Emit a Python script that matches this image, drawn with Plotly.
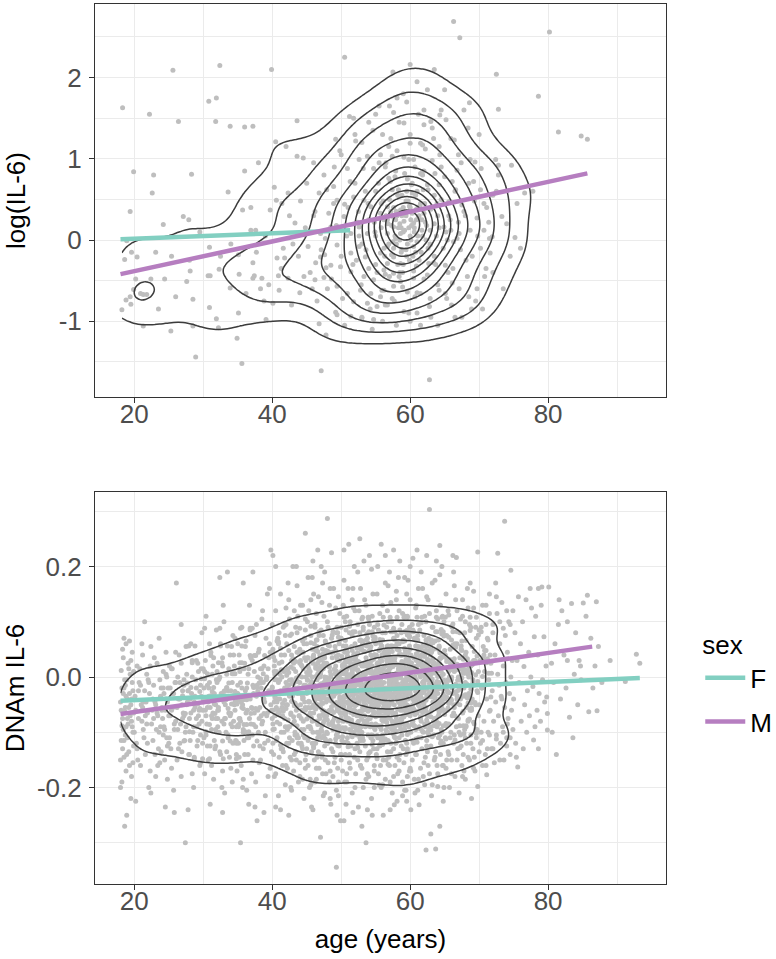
import numpy as np
import plotly.graph_objects as go

# ---------------- data ----------------
# top panel: (age, log(IL-6))
top_pts_young = [(18.3,1.63),(25.6,2.09),(32.4,2.15),(39.9,2.10),(22.2,1.55),(26.4,1.46),(30.8,1.71),(31.9,1.75),(31.8,1.46),(33.9,1.40),(36.0,1.39),(37.2,1.40),(43.6,1.47),(40.5,1.21),(43.6,1.03),(44.5,1.01),(19.9,0.84),(22.8,0.80),(28.3,0.81),(22.6,0.58),(19.4,0.35),(24.2,0.19),(27.1,0.29),(27.9,0.25),(33.6,0.59),(36.0,0.85),(35.7,0.37),(36.9,0.40),(36.9,0.12),(37.6,0.12),(40.3,0.65),(41.4,0.45),(42.3,0.58),(39.7,0.37),(40.6,0.49),(43.3,0.21),(44.1,0.48),(18.9,-0.01),(18.6,-0.24),(19.6,-0.15),(20.4,-0.21),(23.1,-0.15),(25.4,-0.20),(28.0,-0.25),(30.9,-0.09),(32.5,-0.20),(35.1,-0.18),(37.2,-0.28),(37.7,-0.15),(40.7,-0.22),(41.6,-0.10),(41.8,-0.22),(41.3,-0.35),(43.8,-0.20),(20.2,-0.48),(22.4,-0.48),(24.4,-0.48),(28.1,-0.38),(27.6,-0.51),(30.7,-0.44),(31.0,-0.44),(32.3,-0.36),(33.9,-0.59),(35.2,-0.42),(36.2,-0.66),(37.2,-0.47),(37.4,-0.44),(38.3,-0.60),(38.5,-0.47),(39.5,-0.55),(40.9,-0.44),(42.3,-0.47),(44.6,-0.45),(19.4,-0.70),(18.8,-0.74),(19.5,-0.79),(19.9,-0.61),(20.9,-0.66),(21.3,-0.67),(21.8,-0.67),(18.2,-0.86),(21.3,-1.06),(25.3,-1.12),(28.5,-1.06),(28.5,-0.73),(30.9,-0.83),(31.9,-0.97),(32.2,-1.08),(35.1,-0.90),(34.9,-1.21),(39.1,-0.98),(40.1,-0.78),(28.9,-1.44),(35.6,-1.52),(38.0,0.95),(42.5,0.30),(44.0,-0.65),(42.8,-0.80),(34.0,-0.05),(26.0,-0.70),(23.5,-0.85),(29.5,0.10),(39.0,0.05),(43.0,-0.05),(45.0,0.70),(44.8,0.15),(41.0,-0.62),(38.8,-0.75),(42.0,1.15)]
top_pts_mid = [(50.5,2.25),(51.2,1.52),(51.8,1.50),(49.2,1.24),(46.8,0.58),(48.9,0.45),(50.5,0.44),(45.2,-0.08),(46.3,-0.28),(47.8,-0.34),(47.6,-0.18),(46.2,-0.49),(47.5,-0.46),(46.8,-1.03),(47.8,-1.17),(47.1,-1.61),(49.2,-0.89),(57.5,2.07),(48.9,0.66),(50.9,0.88),(52.6,0.99),(53.8,1.03),(54.7,0.88),(57.1,0.72),(49.4,0.49),(51.8,0.53),(53.3,0.49),(54.3,0.41),(55.7,0.33),(48.2,0.33),(48.5,0.16),(50.4,0.29),(51.4,0.08),(52.6,0.16),(53.8,0.08),(56.2,0.25),(57.6,0.16),(47.0,0.08),(47.7,0.02),(49.4,-0.06),(51.4,-0.16),(52.6,-0.08),(53.5,-0.21),(55.7,-0.16),(56.7,-0.08),(57.6,-0.21),(47.0,-0.21),(48.5,-0.31),(49.9,-0.33),(51.4,-0.39),(53.3,-0.45),(54.7,-0.49),(56.2,-0.37),(49.4,-0.57),(50.9,-0.66),(52.8,-0.62),(54.3,-0.66),(55.7,-0.70),(57.4,-0.72),(51.8,-0.76),(53.8,-0.78),(55.2,-0.82),(56.7,-0.80),(49.4,-0.92),(51.4,-0.94),(53.0,-0.96),(54.7,-0.98),(58.1,1.75),(57.6,1.57),(57.4,1.03),(56.9,1.15),(56.4,0.90),(56.9,0.76),(56.7,0.41),(57.9,0.25),(56.7,0.08),(57.9,0.02),(56.2,-0.10),(57.6,-0.10),(56.7,-0.29),(57.6,-0.41),(56.2,-0.62),(57.6,-0.57),(56.4,-0.80),(52.0,1.30),(54.0,1.45),(55.5,1.65),(53.0,1.20),(50.0,1.05),(46.0,0.95),(47.5,0.80),(52.0,0.70),(55.0,0.60),(54.0,0.25),(55.0,0.05),(50.0,-0.20),(48.0,-0.60),(46.5,-0.75),(45.5,-0.40),(55.0,-0.30),(53.0,-0.05),(51.0,0.40),(56.0,1.30),(54.5,-1.10),(50.5,-1.05),(58.0,-1.05),(55.5,0.95),(57.0,0.50),(52.5,0.35),(49.0,0.90),(46.0,0.30),(45.8,-0.60),(54.0,-0.35),(55.8,0.15),(53.5,0.60),(52.2,-0.25),(57.2,0.35)]
top_pts_old = [(66.3,2.69),(67.2,2.49),(80.2,2.56),(60.0,2.16),(63.5,2.10),(72.5,2.04),(78.6,1.77),(68.6,1.69),(72.8,1.61),(81.5,1.33),(84.8,1.28),(85.7,1.24),(68.4,1.38),(66.4,1.23),(72.4,0.99),(72.8,0.92),(74.7,0.92),(69.4,0.96),(76.6,0.58),(77.8,0.60),(73.3,0.29),(71.1,0.40),(75.2,0.03),(71.5,0.02),(62.8,-1.72),(62.0,1.42),(63.0,1.46),(64.3,1.54),(65.2,1.48),(59.1,1.44),(60.0,1.19),(61.5,1.19),(61.8,1.17),(63.4,1.25),(64.2,1.15),(59.8,0.99),(60.5,0.99),(61.5,0.82),(63.2,0.98),(62.5,0.68),(64.2,0.68),(66.1,0.72),(66.6,0.62),(69.2,0.72),(70.2,0.62),(67.5,0.43),(65.6,0.47),(63.9,0.45),(62.0,0.33),(60.3,0.33),(58.6,0.37),(59.1,0.23),(60.5,0.21),(61.7,0.12),(62.9,0.12),(64.9,0.16),(65.9,0.12),(67.1,0.08),(68.7,0.12),(69.7,0.27),(70.7,0.12),(58.8,-0.12),(60.5,-0.08),(62.9,-0.06),(65.4,0.00),(66.3,-0.02),(67.3,-0.12),(70.2,-0.10),(58.6,-0.29),(61.3,-0.25),(62.7,-0.29),(65.1,-0.31),(58.6,-0.51),(60.5,-0.47),(62.5,-0.43),(64.2,-0.62),(66.1,-0.53),(68.3,-0.45),(59.6,-0.64),(61.5,-0.66),(62.9,-0.72),(65.1,-0.66),(59.1,-0.88),(61.0,-0.90),(69.7,-0.60),(71.6,-0.16),(71.9,0.04),(70.7,0.45),(72.8,0.80),(68.7,0.99),(66.8,0.86),(58.1,1.10),(59.5,0.60),(60.8,0.55),(59.0,0.10),(60.0,0.05),(58.5,0.00),(61.0,-0.02),(59.5,-0.20),(60.0,0.40),(61.2,0.28),(58.3,0.15),(59.8,0.15),(60.2,0.18),(58.8,0.30),(61.5,0.45),(62.3,0.00),(63.5,-0.20),(64.0,0.30),(64.5,0.90),(67.0,1.05),(68.0,0.30),(69.0,-0.20),(66.0,-0.80),(63.0,-0.95),(60.0,-1.00),(64.0,-1.05),(67.5,-0.95),(70.5,-0.85),(72.0,-0.40),(73.5,-0.60),(74.5,-0.20),(72.5,0.60),(70.0,1.30),(65.0,1.85),(62.0,1.60),(61.0,1.95),(59.0,1.80),(67.8,1.60),(75.5,0.45),(76.0,-0.10),(74.0,0.20),(71.0,-0.35),(68.5,-0.70),(65.5,-0.40),(63.5,0.55),(62.0,0.85),(65.8,0.25),(58.9,-0.40),(60.7,-0.70),(59.4,0.48),(60.9,-0.32)]
top_pts_core = [(58.5,0.20),(59.2,0.12),(60.1,0.25),(57.8,0.05),(59.6,-0.05),(58.0,0.35),(60.6,0.10),(61.3,0.30),(57.3,0.18),(59.9,0.42),(58.7,-0.15),(60.4,-0.20),(61.8,0.05),(56.9,-0.05),(58.2,0.55),(59.4,0.30),(60.9,0.38),(57.6,0.28),(62.2,0.22),(56.5,0.30),(59.0,-0.30),(61.0,0.60),(58.4,-0.45),(60.3,0.70),(62.6,-0.10),
(46.2,0.35),(47.1,-0.12),(47.9,0.62),(48.6,-0.48),(49.3,0.18),(49.8,1.10),(50.2,-0.72),(50.8,0.05),(51.3,0.72),(51.7,-0.30),(52.1,1.22),(52.4,0.22),(52.9,-0.55),(53.2,0.88),(53.6,-0.12),(53.9,0.45),(54.2,-0.85),(54.6,1.35),(54.9,0.10),(55.2,-0.40),(55.4,0.70),(55.7,1.05),(55.9,-0.62),(56.1,0.48),(56.3,-0.20),(56.5,0.95),(56.8,0.20),(57.0,-0.45),(57.2,1.25),(57.4,0.62),(57.5,-0.02),(57.7,-0.75),(57.9,0.85),(58.1,0.30),(58.2,-0.30),(58.4,1.45),(58.6,0.08),(58.8,0.55),(58.9,-0.58),(59.1,1.02),(59.3,0.32),(59.4,-0.12),(59.6,0.75),(59.8,-0.90),(60.0,1.30),(60.1,0.00),(60.3,0.58),(60.5,-0.38),(60.7,0.90),(60.9,0.25),(61.0,-0.65),(61.2,1.55),(61.4,0.42),(61.6,-0.15),(61.8,0.80),(62.0,-0.48),(62.2,1.12),(62.4,0.18),(62.6,0.62),(62.8,-0.82),(63.0,0.38),(63.2,1.38),(63.4,-0.28),(63.6,0.82),(63.8,0.05),(64.0,-0.55),(64.3,1.05),(64.5,0.50),(64.8,-0.10),(65.0,0.78),(65.3,-0.72),(65.6,0.30),(65.9,1.25),(66.2,-0.35),(66.5,0.60),(66.8,0.02),(67.1,-0.60),(67.4,0.95),(67.8,0.35),(68.1,-0.25),(68.5,0.70),(68.9,-0.85),(69.3,0.48),(69.8,0.05),(70.3,0.88),(70.8,-0.45),(71.4,0.22),(72.0,0.55),(55.0,1.55),(57.0,1.65),(59.5,1.70),(62.5,1.85),(64.5,1.60),(53.0,-0.95),(56.0,-1.00),(61.5,-1.05),(66.5,-0.95),(69.5,-0.75),(58.3,0.62),(59.7,0.48),(60.6,0.15),(58.0,-0.05),(61.1,0.05),(59.0,0.40),(60.4,0.35),(57.6,0.40),(62.1,0.45),(58.7,0.15),(59.9,-0.25),(61.7,0.25),(57.3,-0.18),(60.8,-0.15),(59.2,0.82),(56.7,0.25),(63.5,0.20),(55.8,0.45),(64.2,0.15),(62.9,-0.05),(58.5,-0.40),(60.2,0.68),(57.8,0.78),(61.9,0.62),(56.4,-0.42),(63.7,-0.30),(54.8,0.22),(65.2,0.10),(52.6,0.05),(67.0,0.22)]

# bottom panel: (age in tenths of a year, DNAm IL-6 in thousandths)
bot_pts_18_30 = [(180,-45),(181,12),(182,-88),(183,-130),(184,35),(185,-20),(186,-62),(187,-105),(188,60),(189,-5),(180,-150),(182,-190),(183,-75),(185,70),(186,-270),(188,-35),(190,-110),(191,25),(192,-55),(193,-160),(194,5),(195,-220),(196,-80),(197,45),(198,-25),(199,-125),(181,-60),(184,-95),(187,-15),(189,-140),(190,-40),(192,15),(194,-70),(196,-180),(198,-100),(183,50),(185,-115),(188,-170),(191,-85),(193,-30),(195,-50),(197,-10),(199,-65),(180,-200),(186,-5),(189,-250),(192,-135),(195,30),(197,-90),(199,10),(181,-115),(184,-30),(187,-55),(190,-75),(193,65),(196,-40),(198,-155),(182,-20),(185,-145),(188,-90),
(201,-35),(203,-120),(204,20),(206,-75),(207,-10),(209,-160),(210,-50),(212,40),(213,-95),(215,-25),(216,-140),(218,5),(219,-65),(221,-200),(222,-30),(224,55),(225,-85),(227,-115),(228,-15),(230,-45),(231,-180),(233,25),(234,-70),(236,-100),(237,-5),(239,-135),(240,-55),(242,10),(243,-90),(245,-235),(246,-40),(248,-125),(249,-20),(202,-60),(205,-150),(208,15),(211,-80),(214,-110),(217,-45),(220,-5),(223,-170),(226,-60),(229,35),(232,-95),(235,-130),(238,-35),(241,-75),(244,-150),(247,0),(200,-100),(206,-25),(212,-55),(215,100),(218,-85),(224,-210),(227,-40),(230,-140),(233,-65),(236,70),(239,-20),(242,-105),(245,-60),(248,-185),(204,-130),(209,-15),(213,-45),(219,-120),(223,20),(228,-75),(234,-160),(238,-90),(243,-30),(247,-110),(202,-225),(211,60),(216,-70),(221,-10),(231,-50),(237,-155),(246,45),
(250,-70),(252,-20),(253,-130),(255,15),(256,-55),(258,-95),(259,-10),(261,170),(262,-150),(264,-40),(265,40),(267,-85),(268,-180),(270,-25),(271,-65),(273,-115),(274,-300),(276,5),(277,-45),(279,-140),(280,-75),(282,60),(283,-30),(285,-100),(286,-200),(288,-55),(289,-5),(291,-125),(292,25),(294,-85),(295,-160),(297,-35),(298,80),(299,-60),(251,-110),(254,-165),(257,-30),(260,-80),(263,0),(266,-120),(269,-50),(272,-15),(275,-90),(278,-240),(281,-40),(284,30),(287,-145),(290,-20),(293,-70),(296,-105),(251,20),(254,-60),(257,-205),(260,45),(263,-95),(266,-10),(269,-135),(272,-70),(275,55),(278,-25),(281,-115),(284,-175),(287,-45),(290,-90),(293,10),(296,-155),(299,-120),(258,-245),(268,95),(286,-60)]
bot_pts_30_45 = [(300,-40),(301,-110),(303,30),(304,-70),(306,-15),(307,-150),(309,60),(310,-55),(312,-95),(313,5),(315,-185),(316,-30),(318,-125),(319,85),(321,-60),(322,-5),(324,180),(325,-140),(327,-80),(328,20),(330,-45),(331,-210),(333,-100),(335,190),(336,-25),(337,-65),(339,40),(340,-165),(342,-10),(343,-120),(345,-50),(346,70),(348,-90),(349,-30),(302,-175),(305,-85),(308,-35),(311,45),(314,-65),(317,-130),(320,10),(323,-100),(326,-40),(328,-245),(329,130),(332,-75),(334,-20),(338,-145),(341,55),(344,-80),(347,-115),(300,15),(303,-60),(306,-125),(309,-10),(312,-160),(315,35),(318,-50),(321,-90),(324,0),(327,-200),(330,100),(333,-35),(336,-105),(339,-70),(342,-190),(345,20),(348,-140),(301,-20),(304,110),(307,-45),(310,-230),(313,-75),(316,-115),(319,-5),(322,-55),(325,60),(328,-170),(331,-25),(334,-135),(337,15),(340,-85),(343,75),(346,-60),(349,-170),
(350,-30),(351,-120),(352,40),(353,-75),(354,-10),(355,-160),(356,90),(357,-50),(358,-95),(359,15),(360,-140),(361,-25),(362,65),(363,-205),(364,-60),(365,5),(366,-110),(367,130),(368,-40),(369,-85),(370,-175),(371,30),(372,-15),(373,-125),(374,-65),(375,75),(376,-190),(377,-35),(378,-260),(379,0),(380,-100),(381,50),(382,-55),(383,-150),(384,-20),(385,105),(386,-80),(387,-130),(388,20),(389,-45),(390,-215),(391,-5),(392,-70),(393,150),(394,-115),(395,35),(396,-30),(397,-165),(398,230),(399,-60),(350,60),(352,-145),(354,-80),(356,-20),(358,-185),(360,25),(362,-65),(364,-110),(366,-35),(368,85),(370,-55),(372,-150),(374,10),(376,-90),(378,-15),(380,45),(382,-125),(384,-70),(386,120),(388,-40),(390,-100),(392,0),(394,-180),(396,60),(398,-50),(351,-90),(353,10),(355,-45),(357,-200),(359,-115),(361,55),(363,-20),(365,-140),(367,-75),(369,35),(371,-105),(373,-30),(375,-235),(377,95),(379,-60),(381,-155),(383,15),(385,-85),(387,-10),(389,-120),(391,70),(393,-65),(395,-25),(397,45),(399,-135),(354,-300),(358,170),(372,190),(388,-245),(396,160),(366,-230),
(400,-20),(401,-95),(401,50),(402,-140),(403,-45),(403,10),(404,-70),(405,120),(405,-175),(406,-30),(407,-5),(407,-110),(408,70),(409,-60),(409,-215),(410,25),(411,-85),(411,-40),(412,150),(413,-130),(414,0),(414,-55),(415,-160),(416,90),(416,-25),(417,-100),(418,40),(418,-75),(419,-195),(420,-10),(421,60),(421,-120),(422,-50),(423,15),(423,-90),(424,-250),(425,-35),(425,105),(426,-145),(427,-65),(428,30),(428,-5),(429,-115),(430,200),(430,-45),(431,-170),(432,55),(432,-80),(433,-20),(434,-135),(434,10),(435,-60),(436,80),(436,-105),(437,-30),(438,-190),(438,45),(439,-70),(440,-10),(440,-155),(441,130),(441,-50),(442,-95),(443,20),(443,-125),(444,-40),(444,65),(445,-80),(446,-15),(446,-220),(447,35),(447,-110),(448,-55),(449,0),(449,-140),(400,95),(402,-60),(403,-180),(404,30),(406,-115),(408,-40),(409,60),(410,-145),(412,-25),(413,40),(415,-70),(417,10),(419,-90),(420,125),(422,-165),(424,-15),(426,75),(427,-200),(429,-35),(431,25),(433,-105),(435,-150),(437,110),(439,-20),(440,50),(442,-75),(444,-185),(445,15),(447,-45),(448,85),(401,-120),(404,-5),(405,-235),(407,65),(410,-65),(411,5),(413,-100),(416,-135),(418,-20),(420,-50),(423,170),(425,-110),(428,-150),(430,-85),(432,-10),(434,90),(436,-55),(438,-120),(441,-30),(443,-60),(445,45),(446,-95),(448,-165),(449,30),(401,220),(405,200),(435,200),(412,-240),(448,260)]
bot_pts_45_55 = [(450,-30),(450,60),(451,-110),(451,-5),(452,-160),(452,35),(453,-70),(453,120),(454,-45),(454,-200),(455,10),(455,-90),(456,-20),(456,75),(457,-135),(457,-55),(458,180),(458,0),(459,-100),(459,-240),(460,40),(460,-65),(461,-15),(461,-150),(462,95),(462,-35),(463,-120),(463,20),(464,-80),(464,-185),(465,55),(465,-5),(466,-50),(466,-110),(467,145),(467,-25),(468,-165),(468,30),(469,-75),(469,-40),(470,-290),(470,5),(471,85),(471,-95),(472,-140),(472,-20),(473,50),(473,-60),(474,-215),(474,15),(475,-35),(475,110),(476,-125),(476,-70),(477,-10),(477,65),(478,-175),(478,-45),(479,25),(479,-100),(480,287),(480,-30),(481,-155),(481,45),(482,-85),(482,-5),(483,130),(483,-60),(484,-115),(484,10),(485,-230),(485,-40),(486,70),(486,-130),(487,-20),(487,35),(488,-95),(488,-180),(489,160),(489,-50),(490,-10),(490,-75),(491,55),(491,-145),(492,-30),(492,20),(493,-205),(493,-105),(494,90),(494,-55),(495,-15),(495,-165),(496,40),(496,-80),(497,-125),(497,0),(498,115),(498,-45),(499,-260),(499,-65),(450,-130),(452,-55),(453,15),(455,-185),(456,140),(458,-80),(460,-120),(461,60),(463,-40),(465,-145),(466,25),(468,-100),(470,-55),(471,200),(473,-175),(475,-80),(476,35),(478,-15),(480,-120),(481,90),(483,-190),(485,0),(486,-60),(488,45),(490,-155),(491,-25),(493,80),(495,-100),(496,-215),(498,5),(451,100),(454,-90),(457,-235),(459,-20),(462,-190),(464,-50),(467,-135),(469,10),(472,-110),(474,75),(477,-150),(479,-70),(482,20),(484,-220),(487,-85),(489,-35),(492,-120),(494,-250),(497,60),(499,-140),(493,-344),(459,210),(466,230),(486,225),(473,170),
(500,-25),(500,70),(501,-115),(501,-50),(502,20),(502,-170),(503,-80),(503,130),(504,-260),(504,-10),(505,-95),(505,45),(506,-140),(506,-35),(507,85),(507,-65),(508,-190),(508,5),(509,-45),(509,-110),(510,160),(510,-20),(511,-75),(511,30),(512,-155),(512,-55),(513,100),(513,-5),(514,-125),(514,-85),(515,55),(515,-30),(516,-210),(516,15),(517,-60),(517,-100),(518,125),(518,-40),(519,-145),(519,0),(520,60),(520,-90),(521,-15),(521,-175),(522,40),(522,-50),(523,-120),(523,-70),(524,190),(524,-25),(525,-235),(525,10),(526,-95),(526,-45),(527,80),(527,-135),(528,-10),(528,-160),(529,50),(529,-65),(530,-30),(530,105),(531,-110),(531,-55),(532,25),(532,-200),(533,-80),(533,0),(534,140),(534,-40),(535,-125),(535,-90),(536,-300),(536,35),(537,-20),(537,-150),(538,70),(538,-60),(539,-105),(539,-5),(540,15),(540,-180),(541,-45),(541,95),(542,-75),(542,-135),(543,-25),(543,55),(544,-220),(544,-85),(545,20),(545,-50),(546,150),(546,-115),(547,-10),(547,-65),(548,-160),(548,40),(549,-95),(549,-30),(500,-140),(502,-65),(503,-20),(505,-190),(506,100),(508,-75),(510,-120),(511,0),(513,-165),(515,-105),(516,75),(518,-20),(520,-130),(521,30),(523,-45),(525,-80),(526,120),(528,-115),(530,-165),(531,65),(533,-35),(535,5),(536,-85),(538,-175),(540,-60),(541,-10),(543,-110),(545,110),(546,-40),(548,-200),(501,10),(504,-35),(507,-230),(509,45),(512,-95),(514,-15),(517,160),(519,-60),(522,-105),(524,-150),(527,-25),(529,-90),(532,90),(534,-70),(537,-40),(539,-145),(542,10),(544,-15),(547,-130),(549,65),(504,230),(511,240),(519,200),(527,250),(533,210),(541,220),(545,-250),(517,-245),(530,-270),(538,-240)]
bot_pts_55_65 = [(550,-20),(550,-85),(551,40),(551,-140),(552,-50),(552,10),(553,-110),(553,95),(554,-30),(554,-175),(555,-70),(555,25),(556,-5),(556,-125),(557,60),(557,-45),(558,-95),(558,-200),(559,15),(559,-60),(560,130),(560,-25),(561,-150),(561,-80),(562,45),(562,-10),(563,-115),(563,-40),(564,80),(564,-185),(565,0),(565,-65),(566,-100),(566,30),(567,-20),(567,-135),(568,165),(568,-55),(569,-90),(569,10),(570,-160),(570,-35),(571,55),(571,-75),(572,-5),(572,-120),(573,100),(573,-45),(574,-210),(574,20),(575,-85),(575,-15),(576,70),(576,-130),(577,-50),(577,-231),(578,35),(578,-100),(579,-25),(579,-65),(580,140),(580,-5),(581,-225),(581,-145),(582,50),(582,-35),(583,-80),(583,15),(584,-110),(584,-170),(585,85),(585,-20),(586,-60),(586,0),(587,-125),(587,40),(588,-40),(588,-95),(589,115),(589,-190),(590,-10),(590,-70),(591,25),(591,-155),(592,-50),(592,65),(593,-115),(593,-30),(594,-205),(594,5),(595,-85),(595,150),(596,-20),(596,-135),(597,45),(597,-60),(598,-100),(598,-5),(599,-170),(599,90),(550,60),(552,-130),(553,-40),(555,-195),(556,50),(558,-20),(560,-105),(561,15),(563,-75),(565,-150),(566,90),(568,-115),(570,-5),(571,-190),(573,-60),(575,35),(576,-30),(578,-160),(580,-80),(581,75),(583,-45),(585,-140),(586,-95),(588,20),(590,-130),(591,-40),(593,110),(595,-50),(596,-180),(598,30),(551,-15),(554,85),(557,-160),(559,-110),(562,-70),(564,-30),(567,120),(569,-145),(572,30),(574,-95),(577,-10),(579,-120),(582,-175),(584,60),(587,-75),(589,-45),(592,-95),(594,-140),(597,-35),(599,10),(553,200),(558,240),(564,220),(570,190),(576,230),(583,180),(589,-215),(595,-225),(561,-250),(571,-240),(585,210),(597,175),
(600,-30),(600,50),(601,-100),(601,-240),(602,-55),(602,15),(603,-150),(603,95),(604,-15),(604,-80),(605,35),(605,-120),(606,-45),(606,-185),(607,70),(607,-5),(608,-95),(608,-35),(609,130),(609,-140),(610,-65),(610,20),(611,-20),(611,-205),(612,55),(612,-110),(613,-50),(613,-231),(614,5),(614,85),(615,-165),(615,-75),(616,-25),(616,40),(617,-130),(617,-60),(618,160),(618,-10),(619,-100),(619,-180),(620,25),(620,-40),(621,-85),(621,110),(622,-145),(622,0),(623,-313),(623,-55),(624,60),(624,-115),(625,-20),(625,-70),(626,140),(626,-160),(627,-35),(627,30),(628,303),(629,-90),(629,-5),(630,-284),(630,-125),(631,45),(631,-60),(632,-15),(632,-195),(633,90),(633,-45),(634,-105),(634,10),(635,-150),(635,-75),(636,65),(636,-25),(637,-311),(637,-135),(638,-50),(638,120),(639,-90),(639,15),(640,-175),(640,-30),(641,50),(641,-110),(642,-10),(642,-65),(643,-270),(643,185),(644,-140),(644,35),(645,-45),(645,-95),(646,80),(646,-20),(647,-160),(647,-60),(648,5),(648,-120),(649,100),(649,-35),(601,-170),(603,-20),(605,-60),(607,-210),(609,-40),(611,75),(613,-90),(615,0),(617,20),(619,-55),(621,-195),(623,100),(625,-135),(627,-95),(629,55),(631,-215),(633,-25),(635,25),(637,-80),(639,-160),(641,-20),(643,-105),(645,10),(647,110),(649,-200),(600,200),(604,215),(610,230),(616,190),(624,220),(632,170),(638,210),(643,238),(646,200),(648,-225)]
bot_pts_65_94 = [(650,-40),(650,40),(651,-110),(652,-10),(652,-165),(653,75),(654,-60),(654,-25),(655,120),(655,-135),(656,-85),(656,10),(657,-200),(658,50),(658,-45),(659,-100),(660,-5),(660,-150),(661,90),(661,-70),(662,220),(662,-30),(663,-120),(664,25),(664,-55),(665,-180),(666,140),(666,-15),(667,-90),(667,216),(668,-40),(668,60),(669,-130),(670,0),(670,-75),(671,-210),(672,35),(672,-50),(673,-105),(673,105),(674,-20),(675,-160),(675,65),(676,-65),(677,15),(677,-140),(678,-35),(679,80),(679,-95),(680,-10),(680,-185),(681,45),(682,-120),(682,-55),(683,160),(684,-80),(684,5),(685,-30),(686,-150),(686,95),(687,-60),(688,20),(688,-105),(689,-220),(690,-40),(690,55),(691,-130),(692,-15),(692,125),(693,-85),(694,30),(694,-170),(695,-50),(696,70),(696,-110),(697,-25),(698,226),(698,-198),(699,-70),(699,10),(651,-20),(653,-150),(657,30),(659,-40),(663,-65),(665,60),(669,20),(671,-100),(674,-125),(676,110),(678,-170),(681,-90),(685,0),(687,170),(689,-60),(691,-5),(693,-145),(695,90),(697,-95),(663,190),
(700,-50),(701,30),(702,-120),(703,90),(704,-20),(705,-160),(706,55),(707,-80),(708,10),(709,-140),(710,130),(711,-177),(711,-40),(712,70),(713,-100),(714,-5),(715,150),(716,-60),(717,25),(718,-130),(719,-25),(720,95),(721,-80),(722,-155),(723,40),(724,-45),(725,-105),(726,115),(727,224),(727,5),(728,-70),(729,-15),(730,60),(731,-120),(732,-35),(733,135),(734,-90),(735,20),(736,-150),(737,282),(737,-55),(738,75),(739,-10),(740,-110),(741,45),(742,-75),(743,100),(744,-30),(745,-140),(746,193),(746,0),(747,-60),(748,30),(749,-95),(749,120),(703,-100),(712,-130),(724,170),(733,-40),(741,-85),
(750,-40),(752,80),(753,-120),(755,30),(756,-163),(757,145),(758,-10),(760,60),(761,-80),(763,100),(765,19),(766,-50),(768,140),(769,-100),(770,-25),(772,45),(773,-70),(775,0),(776,125),(778,-17),(779,-114),(780,73),(781,-90),(782,110),(784,-60),(785,40),(787,-30),(789,-80),(790,130),(792,-5),(794,73),(795,-45),(797,20),(799,-66),(754,-145),(764,-130),(774,160),(786,-130),(791,163),(798,-36),
(801,163),(786,160),(812,-140),(799,-96),(805,25),(808,-10),(810,60),(815,95),(818,-40),(820,120),(823,40),(826,-20),(831,-73),(834,133),(838,5),(840,80),(843,-50),(845,30),(851,134),(855,110),(857,148),(859,-63),(862,70),(865,-20),(870,136),(871,-61),(873,55),(878,-10),(890,30),(912,-8),(928,41),(933,25),(806,-100),(816,140),(828,100),(836,-110),(848,-5),(868,20),(847,20),(828,30)]
# denser areas of the bottom panel (grey mass)
bot_core_24_40 = [(270,-34),(280,-99),(288,56),(295,-57),(302,-3),(309,-148),(315,-19),(321,-75),(327,26),(333,-41),(339,-116),(344,6),(349,-49),(354,88),(359,-86),(364,-11),(369,-66),(374,39),(379,-26),(385,15),
(274,-66),(284,26),(292,-49),(299,-148),(306,6),(313,-26),(319,-99),(325,56),(331,-75),(337,-11),(343,-34),(348,-116),(353,15),(358,-57),(363,-41),(368,88),(373,-86),(378,-19),(383,-3),(389,39),
(277,-11),(287,-148),(295,-26),(302,88),(309,-86),(316,-49),(322,26),(328,-116),(334,-19),(340,-66),(346,6),(351,-41),(356,56),(361,-99),(366,15),(371,-57),(376,39),(381,-75),(386,-34),(392,-3),
(272,-116),(282,-19),(290,-75),(297,15),(304,-41),(311,39),(317,-66),(323,-3),(329,-148),(335,56),(341,-49),(346,-26),(351,-86),(356,26),(361,-34),(366,-99),(371,88),(376,-57),(381,-11),(387,6),
(279,56),(289,-49),(297,-3),(304,-99),(311,-34),(318,-75),(324,88),(330,-26),(336,-57),(342,6),(348,-148),(353,26),(358,-41),(363,-86),(368,39),(373,-19),(378,-116),(383,-11),(388,-66),(394,15),
(240,-60),(242,-20),(244,-95),(246,5),(248,-45),(250,-120),(252,-70),(254,15),(256,-30),(258,-85),(260,-10),(262,-55),(264,-130),(266,-40),(268,25),(270,-75),(272,-5),(274,-100),(276,-50),(278,-25),(280,-140),(282,-65),(284,0),(286,-90),(288,-35),(290,30),(292,-115),(294,-60),(296,-15),(298,-80),(300,-45),(302,10),(304,-105),(306,-55),(308,-20),(310,-125),(312,-70),(314,20),(316,-40),(318,-95),(320,-10),(322,-60),(324,-135),(326,-30),(328,35),(330,-85),(332,-50),(334,5),(336,-110),(338,-65),(340,-25),(342,-90),(344,40),(346,-45),(348,-120),(350,-15),(352,-75),(354,15),(356,-55),(358,-100)]
bot_core_40_50 = [(400,-18),(402,36),(403,-94),(405,-40),(406,10),(408,-66),(409,64),(411,-5),(412,-123),(414,27),(415,-48),(417,-25),(418,93),(420,-57),(421,3),(423,-78),(424,48),(426,-33),(427,18),(429,-12),(430,-30),(431,15),(433,-100),(434,-50),(436,45),(437,-8),(439,-70),(440,25),(442,-120),(443,0),(445,-38),(446,60),(448,-60),(449,-20),(401,-85),(404,5),(407,-45),(410,80),(413,-28),(416,-62),(419,12),(422,-15),(425,-90),(428,40),(432,-52),(435,-2),(438,-110),(441,30),(444,-35),(447,70),(400,-75),(403,20),(406,-55),(409,-10),(412,52),(415,-130),(418,-42),(421,-22),(424,8),(427,-68),(430,33),(433,-47),(436,-88),(439,2),(442,22),(445,-105),(448,-15),(401,44),(404,-36),(407,-82),(410,-27),(413,13),(416,-58),(419,75),(422,-95),(425,-6),(428,-44),(431,-72),(434,28),(437,-20),
(450,-20),(451,35),(452,-90),(453,-45),(454,10),(455,-65),(456,62),(457,-8),(458,-120),(459,25),(460,-50),(461,-28),(462,90),(463,-58),(464,2),(465,-80),(466,46),(467,-35),(468,17),(469,-14),(470,-32),(471,12),(472,-98),(473,-48),(474,42),(475,-10),(476,-72),(477,24),(478,-116),(479,-1),(480,-40),(481,58),(482,-62),(483,-22),(484,-86),(485,4),(486,-44),(487,76),(488,-30),(489,-64),(490,14),(491,-18),(492,-92),(493,38),(494,-54),(495,-4),(496,-108),(497,30),(498,-36),(499,68),(450,-76),(452,20),(454,-56),(456,-12),(458,50),(460,-128),(462,-42),(464,-24),(466,6),(468,-70),(470,32),(472,-46),(474,-84),(476,0),(478,22),(480,-102),(482,-16),(484,44),(486,-34),(488,-80),(490,-26),(492,12),(494,-60),(496,72),(498,-94),(451,-6),(453,-44),(455,-70),(457,28),(459,-20),(461,-38),(463,16),(465,-100),(467,-52),(469,40),(471,-12),(473,-68),(475,26),(477,-112),(479,-3),(481,-42),(483,56),(485,-60),(487,-24),(489,-88),(491,6),(493,-46),(495,80),(497,-28),(499,-66),(450,8),(453,-16),(456,-94),(459,36),(462,-56),(465,-2),(468,-104),(471,31),(474,-38),(477,64),(480,-78),(483,18),(486,-54),(489,-14),(492,48),(495,-124),(498,-40),(451,-26),(454,4),(457,-74),(460,34),(463,-50),(466,-86),(469,0),(472,20),(475,-106),(478,-18),(481,46),(484,-32),(487,-82),(490,-28),(493,10),(496,-62),(499,70)]
bot_core_50_60 = [(500,-18),(501,37),(502,-92),(503,-43),(504,12),(505,-63),(506,66),(507,-6),(508,-118),(509,27),(510,-48),(511,-26),(512,92),(513,-56),(514,4),(515,-78),(516,48),(517,-33),(518,19),(519,-12),(520,-30),(521,14),(522,-96),(523,-46),(524,44),(525,-8),(526,-70),(527,26),(528,-114),(529,1),(530,-38),(531,60),(532,-60),(533,-20),(534,-84),(535,6),(536,-42),(537,78),(538,-28),(539,-62),(540,16),(541,-16),(542,-90),(543,40),(544,-52),(545,-2),(546,-106),(547,32),(548,-34),(549,70),(500,-74),(502,22),(504,-54),(506,-10),(508,52),(510,-126),(512,-40),(514,-22),(516,8),(518,-68),(520,34),(522,-44),(524,-82),(526,2),(528,24),(530,-100),(532,-14),(534,46),(536,-32),(538,-78),(540,-24),(542,14),(544,-58),(546,74),(548,-92),(501,-4),(503,-42),(505,-68),(507,30),(509,-18),(511,-36),(513,18),(515,-98),(517,-50),(519,42),(521,-10),(523,-66),(525,28),(527,-110),(529,-1),(531,-40),(533,58),(535,-58),(537,-22),(539,-86),(541,8),(543,-44),(545,82),(547,-26),(549,-64),(500,10),(503,-14),(506,-92),(509,38),(512,-54),(515,0),(518,-102),(521,33),(524,-36),(527,66),(530,-76),(533,20),(536,-52),(539,-12),(542,50),(545,-122),(548,-38),(501,-24),(504,6),(507,-72),(510,36),(513,-48),(516,-84),(519,2),(522,22),(525,-104),(528,-16),(531,48),(534,-30),(537,-80),(540,-26),(543,12),(546,-60),(549,72),(502,-8),(505,-46),(508,-30),(511,4),(514,-64),(517,24),(520,-52),(523,-6),(526,-88),(529,54),(532,-36),(535,-18),(538,10),(541,-74),(544,30),(547,-42),(500,-56),(503,16),(506,-36),(509,-80),(512,0),(515,-24),(518,40),(521,-62),(524,-12),(527,-96),(530,20),(533,-44),(536,-4),(539,62),(542,-34),(545,-70),(548,8),(502,-108),(505,-20),(508,-2),(511,-58),(514,34),(517,-90),(520,-16),(523,52),(526,-38),(529,-72),(532,6),(535,-50),(538,26),
(550,-15),(551,38),(552,-88),(553,-40),(554,14),(555,-60),(556,68),(557,-4),(558,-115),(559,29),(560,-46),(561,-24),(562,94),(563,-54),(564,6),(565,-75),(566,50),(567,-30),(568,21),(569,-10),(570,-28),(571,16),(572,-92),(573,-44),(574,46),(575,-6),(576,-68),(577,28),(578,-110),(579,3),(580,-36),(581,62),(582,-58),(583,-18),(584,-82),(585,8),(586,-40),(587,80),(588,-26),(589,-60),(590,18),(591,-14),(592,-86),(593,42),(594,-50),(595,0),(596,-104),(597,34),(598,-32),(599,72),(550,-72),(552,24),(554,-52),(556,-8),(558,54),(560,-122),(562,-38),(564,-20),(566,10),(568,-66),(570,36),(572,-42),(574,-80),(576,4),(578,26),(580,-98),(582,-12),(584,48),(586,-30),(588,-76),(590,-22),(592,16),(594,-56),(596,76),(598,-90),(551,-2),(553,-40),(555,-66),(557,32),(559,-16),(561,-34),(563,20),(565,-96),(567,-48),(569,44),(571,-8),(573,-64),(575,30),(577,-108),(579,1),(581,-38),(583,60),(585,-56),(587,-20),(589,-84),(591,10),(593,-42),(595,84),(597,-24),(599,-62),(550,12),(553,-12),(556,-90),(559,40),(562,-52),(565,2),(568,-100),(571,35),(574,-34),(577,68),(580,-74),(583,22),(586,-50),(589,-10),(592,52),(595,-120),(598,-36),(551,-22),(554,8),(557,-70),(560,38),(563,-46),(566,-82),(569,4),(572,24),(575,-102),(578,-14),(581,50),(584,-28),(587,-78),(590,-24),(593,14),(596,-58),(599,74),(552,-6),(555,-44),(558,-28),(561,6),(564,-62),(567,26),(570,-50),(573,-4),(576,-86),(579,56),(582,-34),(585,-16),(588,12),(591,-72),(594,32),(597,-40),(550,-54),(553,18),(556,-34),(559,-78),(562,2),(565,-22),(568,42),(571,-60),(574,-10),(577,-94),(580,22),(583,-42),(586,-2),(589,64),(592,-32),(595,-68),(598,10),(552,-106),(555,-18),(558,0),(561,-56),(564,36),(567,-88),(570,-14),(573,54),(576,-36),(579,-70),(582,8),(585,-48),(588,28),(591,-26),(594,-8),(597,-52)]
bot_core_60_70 = [(600,-14),(601,39),(602,-86),(603,-38),(604,15),(605,-58),(606,70),(607,-2),(608,-112),(609,30),(610,-44),(611,-22),(612,95),(613,-52),(614,8),(615,-72),(616,52),(617,-28),(618,22),(619,-8),(620,-26),(621,18),(622,-90),(623,-42),(624,48),(625,-4),(626,-66),(627,30),(628,-106),(629,5),(630,-34),(631,64),(632,-56),(633,-16),(634,-80),(635,10),(636,-38),(637,82),(638,-24),(639,-58),(640,20),(641,-12),(642,-84),(643,44),(644,-48),(645,2),(646,-100),(647,36),(648,-30),(649,74),(600,-70),(602,26),(604,-50),(606,-6),(608,56),(610,-118),(612,-36),(614,-18),(616,12),(618,-64),(620,38),(622,-40),(624,-78),(626,6),(628,28),(630,-96),(632,-10),(634,50),(636,-28),(638,-74),(640,-20),(642,18),(644,-54),(646,78),(648,-88),(601,0),(603,-36),(605,-64),(607,34),(609,-14),(611,-32),(613,22),(615,-94),(617,-46),(619,46),(621,-6),(623,-62),(625,32),(627,-104),(629,3),(631,-36),(633,62),(635,-54),(637,-18),(639,-82),(641,12),(643,-40),(645,86),(647,-22),(649,-60),(600,14),(603,-10),(606,-88),(609,42),(612,-50),(615,4),(618,-98),(621,37),(624,-32),(627,70),(630,-72),(633,24),(636,-48),(639,-8),(642,54),(645,-116),(648,-34),(601,-20),(604,10),(607,-68),(610,40),(613,-44),(616,-80),(619,6),(622,26),(625,-100),(628,-12),(631,52),(634,-26),(637,-76),(640,-22),(643,16),(646,-56),(649,76),(602,-4),(605,-42),(608,-26),(611,8),(614,-60),(617,28),(620,-48),(623,-2),(626,-84),(629,58),(632,-32),(635,-14),(638,14),(641,-70),(644,34),(647,-38),(600,-24),(604,-14),(608,-8),(612,-18),(616,-30),(620,-10),(624,-22),(628,-28),(632,-4),(636,-16),
(650,-12),(651,40),(652,-84),(653,-36),(654,16),(655,-56),(656,72),(657,0),(658,-110),(659,31),(660,-42),(661,-20),(662,96),(663,-50),(664,10),(665,-70),(666,54),(667,-26),(668,23),(669,-6),(670,-24),(671,20),(672,-88),(673,-40),(674,50),(675,-2),(676,-64),(677,32),(678,-102),(679,7),(680,-32),(681,66),(682,-54),(683,-14),(684,-78),(685,12),(686,-36),(687,84),(688,-22),(689,-56),(690,22),(691,-10),(692,-82),(693,46),(694,-46),(695,4),(696,-98),(697,38),(698,-28),(699,76),(650,-68),(653,28),(656,-48),(659,-4),(662,58),(665,-114),(668,-34),(671,-16),(674,14),(677,-62),(680,40),(683,-38),(686,-76),(689,8),(692,30),(695,-94),(698,-8),(652,-20),(660,0),(668,-48)]
bot_core_upper = [(470,7),(500,-47),(520,82),(535,-13),(545,33),(554,-88),(563,19),(571,-28),(579,56),(586,1),(594,-62),(601,40),(609,-6),(617,108),(626,-36),(635,26),(645,-20),(660,67),(680,13),(710,48),
(473,-20),(503,56),(523,-6),(538,-88),(548,40),(557,13),(566,-47),(574,82),(582,-28),(589,26),(597,7),(604,-62),(612,48),(620,-13),(629,1),(638,108),(648,-36),(663,19),(683,33),(713,67),
(466,26),(496,-88),(516,13),(531,108),(541,-36),(550,-6),(559,56),(567,-62),(575,19),(582,-20),(590,40),(597,1),(605,82),(613,-47),(622,48),(631,-13),(641,67),(656,-28),(676,7),(706,33),
(476,-62),(506,19),(526,-28),(541,48),(551,1),(560,67),(569,-20),(577,33),(585,-88),(592,82),(600,-6),(607,13),(615,-36),(623,56),(632,7),(641,-47),(651,108),(666,-13),(686,26),(716,40),
(468,82),(498,-6),(518,33),(533,-47),(543,7),(552,-28),(561,108),(569,13),(577,-13),(584,40),(592,-88),(599,56),(607,1),(615,-36),(624,67),(633,19),(643,-62),(658,26),(678,-20),(708,48),
(478,48),(508,13),(528,67),(543,-20),(553,26),(562,-36),(571,108),(579,-6),(587,40),(594,-62),(602,1),(609,56),(617,-28),(625,19),(634,-88),(643,33),(653,-13),(668,82),(688,-47),(718,7),
(464,67),(494,33),(514,19),(529,-36),(539,108),(548,1),(557,-13),(565,48),(573,-62),(580,7),(588,26),(595,-28),(603,82),(611,-47),(620,13),(629,40),(639,-88),(654,-6),(674,56),(704,-20),
(471,33),(501,7),(521,-28),(536,67),(546,-13),(555,48),(564,-47),(572,82),(580,1),(587,40),(595,-20),(602,19),(610,-62),(618,56),(627,-6),(636,-36),(646,108),(661,13),(681,-88),(711,26),
(475,40),(505,26),(525,-13),(540,108),(550,-47),(559,7),(568,56),(576,-36),(584,13),(591,-6),(599,82),(606,-88),(614,33),(622,-20),(631,67),(640,1),(650,48),(665,-28),(685,19),(715,-62),
(463,48),(493,-20),(513,26),(528,-62),(538,19),(547,67),(556,-36),(564,1),(572,56),(579,-88),(587,40),(594,-13),(602,13),(610,108),(619,-28),(628,7),(638,-47),(653,33),(673,-6),(703,82),
(472,-88),(502,19),(522,-28),(537,56),(547,1),(556,-62),(565,40),(573,-6),(581,108),(588,-36),(596,26),(603,-20),(611,67),(619,13),(628,48),(637,7),(647,-47),(662,82),(682,-13),(712,33),
(467,13),(497,-47),(517,82),(532,-28),(542,26),(551,7),(560,-62),(568,48),(576,-13),(583,1),(591,108),(598,-36),(606,19),(614,33),(623,67),(632,-20),(642,56),(657,-6),(677,-88),(707,40),
(477,-6),(507,56),(527,-62),(542,19),(552,-20),(561,40),(570,1),(578,82),(586,-47),(593,48),(601,-13),(608,67),(616,-28),(624,7),(633,33),(642,26),(652,-88),(667,13),(687,108),(717,-36),
(465,67),(495,-20),(515,33),(530,-88),(540,82),(549,-6),(558,13),(566,-36),(574,56),(581,7),(589,-47),(596,108),(604,-13),(612,26),(621,40),(630,-62),(640,19),(655,-28),(675,48),(705,1),
(474,-28),(504,108),(524,13),(539,-13),(549,40),(558,-88),(567,56),(575,1),(583,-36),(590,67),(598,19),(605,-62),(613,26),(621,-20),(630,48),(639,82),(649,-6),(664,33),(684,-47),(714,7)]
bot_core_halo = [(420,95),(424,140),(428,78),(432,120),(436,165),(440,88),(444,130),(448,105),(452,180),(456,92),(460,150),(464,115),(468,75),(472,135),(476,190),(480,100),(484,160),(488,82),(492,125),(496,145),(500,90),(504,175),(508,110),(512,80),(516,140),(520,120),(524,95),(528,160),(532,85),(536,130),(540,105),(544,195),(548,90),(552,150),(556,115),(560,80),(564,170),(568,100),(572,135),(576,88),(580,155),(584,120),(588,95),(592,180),(596,110),(600,140),(604,85),(608,125),(612,160),(616,98),(620,75),(624,145),(628,115),(632,90),(636,175),(640,105),(644,130),(648,82),(652,150),(656,112),(660,92),(664,165),(668,120),(672,80),(676,140),(680,100),(684,125),(688,90),(692,155),(696,108),(700,85),(705,130),(710,95),(715,115),(720,80),(725,145),(730,100),(735,88),(740,120),(745,95),
(420,-160),(424,-120),(428,-205),(432,-140),(436,-110),(440,-180),(444,-130),(448,-150),(452,-115),(456,-195),(460,-125),(464,-165),(468,-105),(472,-145),(476,-210),(480,-120),(484,-170),(488,-135),(492,-112),(496,-190),(500,-150),(504,-118),(508,-175),(512,-140),(516,-108),(520,-200),(524,-128),(528,-160),(532,-115),(536,-185),(540,-138),(544,-105),(548,-170),(552,-148),(556,-122),(560,-195),(564,-112),(568,-158),(572,-135),(576,-180),(580,-118),(584,-150),(588,-105),(592,-205),(596,-130),(600,-165),(604,-115),(608,-140),(612,-185),(616,-110),(620,-155),(624,-125),(628,-175),(632,-108),(636,-145),(640,-198),(644,-120),(648,-160),(652,-112),(656,-140),(660,-175),(664,-105),(668,-150),(672,-128),(676,-180),(680,-110),(684,-145),(688,-120),(692,-165),(696,-102),(700,-135),(705,-115),(710,-160),(715,-105),(720,-130),(725,-112),(730,-150),(735,-100),(740,-125),(745,-110)]

# linear fits per sex (endpoints)
top_fit_F_age = [18.0, 51.3]
top_fit_F_val = [0.01, 0.12]
top_fit_M_age = [18.0, 85.7]
top_fit_M_val = [-0.42, 0.82]
bot_fit_F_age = [18.0, 93.3]
bot_fit_F_val = [-0.043, -0.002]
bot_fit_M_age = [18.0, 86.4]
bot_fit_M_val = [-0.067, 0.055]

sex_labels = ["F", "M"]
x_tick_vals = [20, 40, 60, 80]
x_tick_text = ["20", "40", "60", "80"]
top_y_tick_vals = [-1, 0, 1, 2]
top_y_tick_text = ["-1", "0", "1", "2"]
bot_y_tick_vals = [-0.2, 0.0, 0.2]
bot_y_tick_text = ["-0.2", "0.0", "0.2"]

# ---------------- styling ----------------
COL_F = "#82CFC1"
COL_M = "#B67EC0"
PT_COL = "#BEBEBE"
CT_COL = "#3C3C3C"
FONT = "Liberation Sans, Arial, sans-serif"
XR = [14.3, 97.1]
TOP_YR = [-1.933, 2.906]
BOT_YR = [-0.3745, 0.3348]

top = np.array(top_pts_young + top_pts_mid + top_pts_old + top_pts_core, dtype=float)
top_x, top_y = top[:, 0], top[:, 1]
bot = np.array(bot_pts_18_30 + bot_pts_30_45 + bot_pts_45_55 + bot_pts_55_65 + bot_pts_65_94
               + bot_core_24_40 + bot_core_40_50 + bot_core_50_60 + bot_core_60_70 + bot_core_upper
               + bot_core_halo, dtype=float)
bot_x, bot_y = bot[:, 0] / 10.0, bot[:, 1] / 1000.0


def bw_nrd(v):
    q1, q3 = np.percentile(v, [25, 75])
    return 4 * 1.06 * min(np.std(v, ddof=1), (q3 - q1) / 1.34) * len(v) ** (-0.2)


def kde2d(x, y, n=100):
    hx, hy = bw_nrd(x) / 4, bw_nrd(y) / 4
    gx = np.linspace(x.min(), x.max(), n)
    gy = np.linspace(y.min(), y.max(), n)
    ax = (gx[:, None] - x[None, :]) / hx
    ay = (gy[:, None] - y[None, :]) / hy
    z = np.exp(-0.5 * ay ** 2) @ np.exp(-0.5 * ax ** 2).T / (len(x) * 2 * np.pi * hx * hy)
    return gx, gy, z


def pretty_unit(lo, hi, n=10):
    cell = (hi - lo) / n
    U = 10 ** np.floor(np.log10(cell))
    unit = U
    h, h5 = 1.5, 0.5 + 1.5 * 1.5
    if 2 * U - cell < h * (cell - unit):
        unit = 2 * U
        if 5 * U - cell < h5 * (cell - unit):
            unit = 5 * U
            if 10 * U - cell < h * (cell - unit):
                unit = 10 * U
    return unit


def contour_trace(x, y, xa, ya):
    gx, gy, z = kde2d(x, y)
    unit = pretty_unit(z.min(), z.max())
    start = np.floor(z.min() / unit) * unit + unit
    end = np.floor(z.max() / unit) * unit
    return go.Contour(x=gx, y=gy, z=z, autocontour=False,
                      contours=dict(start=start, end=end, size=unit, coloring="lines"),
                      colorscale=[[0, CT_COL], [1, CT_COL]], showscale=False,
                      line=dict(width=1.5, smoothing=1), hoverinfo="skip",
                      xaxis=xa, yaxis=ya, showlegend=False)


fig = go.Figure()
fig.add_trace(go.Scatter(x=top_x, y=top_y, mode="markers", marker=dict(size=5, color=PT_COL),
                         xaxis="x", yaxis="y", showlegend=False, hoverinfo="skip"))
fig.add_trace(go.Scatter(x=bot_x, y=bot_y, mode="markers", marker=dict(size=5, color=PT_COL),
                         xaxis="x2", yaxis="y2", showlegend=False, hoverinfo="skip"))
fig.add_trace(contour_trace(top_x, top_y, "x3", "y3"))
fig.add_trace(contour_trace(bot_x, bot_y, "x4", "y4"))
fig.add_trace(go.Scatter(x=top_fit_F_age, y=top_fit_F_val, mode="lines", line=dict(color=COL_F, width=4.5),
                         name=sex_labels[0], legendgroup="F", xaxis="x3", yaxis="y3"))
fig.add_trace(go.Scatter(x=top_fit_M_age, y=top_fit_M_val, mode="lines", line=dict(color=COL_M, width=4.5),
                         name=sex_labels[1], legendgroup="M", xaxis="x3", yaxis="y3"))
fig.add_trace(go.Scatter(x=bot_fit_F_age, y=bot_fit_F_val, mode="lines", line=dict(color=COL_F, width=4.5),
                         name=sex_labels[0], legendgroup="F", showlegend=False, xaxis="x4", yaxis="y4"))
fig.add_trace(go.Scatter(x=bot_fit_M_age, y=bot_fit_M_val, mode="lines", line=dict(color=COL_M, width=4.5),
                         name=sex_labels[1], legendgroup="M", showlegend=False, xaxis="x4", yaxis="y4"))

base = dict(showgrid=True, gridcolor="#EBEBEB", gridwidth=1.3, zeroline=False, automargin=False,
            showline=True, mirror=True, linecolor="#333333", linewidth=1.1,
            ticks="outside", ticklen=5, tickwidth=1.1, tickcolor="#333333",
            tickfont=dict(family=FONT, size=26, color="#4D4D4D"), tickmode="array")
xgrid = dict(base, ticklabelstandoff=-11)
ygrid = dict(base, ticklabelstandoff=2)
minor_style = dict(showgrid=True, gridcolor="#EBEBEB", gridwidth=0.7, ticks="", tickmode="array")
title_font = dict(family=FONT, size=26, color="black")

TOP_DOM = [0.5534, 1.0]
BOT_DOM = [0.0, 0.4455]

fig.update_layout(
    width=776, height=959,
    margin=dict(l=95, r=110, t=4, b=75, autoexpand=False),
    paper_bgcolor="white", plot_bgcolor="white",
    font=dict(family=FONT, size=26, color="black"),
    xaxis=dict(domain=[0, 1], anchor="y", range=XR, tickvals=x_tick_vals, ticktext=x_tick_text,
               minor=dict(tickvals=[30, 50, 70, 90], **minor_style), **xgrid),
    yaxis=dict(domain=TOP_DOM, anchor="x", range=TOP_YR, tickvals=top_y_tick_vals, ticktext=top_y_tick_text,
               minor=dict(tickvals=[-1.5, -0.5, 0.5, 1.5, 2.5], **minor_style),
               title=dict(text="log(IL-6)", font=title_font, standoff=25), **ygrid),
    xaxis2=dict(domain=[0, 1], anchor="y2", range=XR, tickvals=x_tick_vals, ticktext=x_tick_text,
                minor=dict(tickvals=[30, 50, 70, 90], **minor_style),
                title=dict(text="age (years)", font=title_font, standoff=14), **xgrid),
    yaxis2=dict(domain=BOT_DOM, anchor="x2", range=BOT_YR, tickvals=bot_y_tick_vals, ticktext=bot_y_tick_text,
                minor=dict(tickvals=[-0.3, -0.1, 0.1, 0.3], **minor_style),
                title=dict(text="DNAm IL-6", font=title_font, standoff=7), **ygrid),
    xaxis3=dict(overlaying="x", anchor="y3", range=XR, visible=False, showgrid=False),
    yaxis3=dict(overlaying="y", anchor="x3", range=TOP_YR, visible=False, showgrid=False),
    xaxis4=dict(overlaying="x2", anchor="y4", range=XR, visible=False, showgrid=False),
    yaxis4=dict(overlaying="y2", anchor="x4", range=BOT_YR, visible=False, showgrid=False),
    legend=dict(x=1.06, y=0.2995, xanchor="left", yanchor="top", bgcolor="rgba(0,0,0,0)",
                title=dict(text="sex", font=title_font), traceorder="grouped",
                font=dict(family=FONT, size=26, color="black"), itemwidth=40, tracegroupgap=7),
)

fig.write_html("out.html", config={"displayModeBar": False},
               post_script="document.body.style.margin='0px';")
